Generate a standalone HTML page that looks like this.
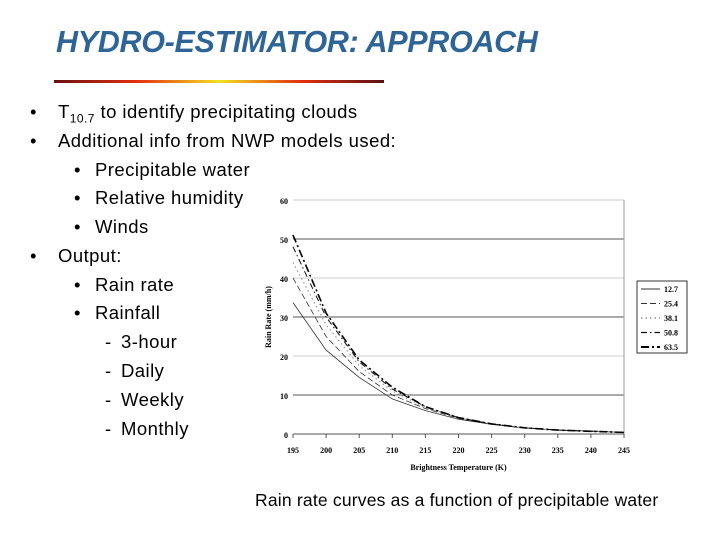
<!DOCTYPE html>
<html><head><meta charset="utf-8"><style>
body{margin:0;width:720px;height:540px;background:#fff;overflow:hidden;position:relative;font-family:"Liberation Sans",sans-serif}
.t{position:absolute;font-size:18.5px;letter-spacing:0.45px;color:#000;white-space:nowrap}
</style></head><body>
<div style="position:absolute;left:56px;top:25px;font:italic bold 30.5px 'Liberation Sans',sans-serif;color:#2e6596;letter-spacing:-0.3px">HYDRO-ESTIMATOR: APPROACH</div>
<div style="position:absolute;left:54px;top:80px;width:330px;height:3px;background:linear-gradient(90deg,#6a1010,#e03010 25%,#f5e020 50%,#e03010 75%,#5a1010)"></div>
<div>
<div class="t" style="left:30px;top:101px">•</div><div class="t" style="left:58px;top:101px">T<sub style="font-size:12px">10.7</sub> to identify precipitating clouds</div>
<div class="t" style="left:30px;top:130px">•</div><div class="t" style="left:58px;top:130px">Additional info from NWP models used:</div>
<div class="t" style="left:74px;top:159px">•</div><div class="t" style="left:95px;top:159px">Precipitable water</div>
<div class="t" style="left:74px;top:187px">•</div><div class="t" style="left:95px;top:187px">Relative humidity</div>
<div class="t" style="left:74px;top:216px">•</div><div class="t" style="left:95px;top:216px">Winds</div>
<div class="t" style="left:30px;top:245px">•</div><div class="t" style="left:58px;top:245px">Output:</div>
<div class="t" style="left:74px;top:274px">•</div><div class="t" style="left:95px;top:274px">Rain rate</div>
<div class="t" style="left:74px;top:302px">•</div><div class="t" style="left:95px;top:302px">Rainfall</div>
<div class="t" style="left:105px;top:331px">-</div><div class="t" style="left:121px;top:331px">3-hour</div>
<div class="t" style="left:105px;top:360px">-</div><div class="t" style="left:121px;top:360px">Daily</div>
<div class="t" style="left:105px;top:389px">-</div><div class="t" style="left:121px;top:389px">Weekly</div>
<div class="t" style="left:105px;top:418px">-</div><div class="t" style="left:121px;top:418px">Monthly</div>
</div>
<div class="t" style="left:255px;top:490px;font-size:17.5px;letter-spacing:0.2px">Rain rate curves as a function of precipitable water</div>
<svg id="c" width="720" height="540" style="position:absolute;left:0;top:0"></svg>
<script>
const temps=[195,200,205,210,215,220,225,230,235,240,245];
const s127=[33.7,21.5,14.5,9,6,3.8,2.5,1.5,1,0.8,0.4];
const s254=[40,25,16,10,6.5,4,2.5,1.6,1,0.7,0.4];
const s381=[44,28,17.5,11,6.8,4.1,2.6,1.6,1,0.7,0.4];
const s508=[48,30,18.5,11.5,7,4.2,2.6,1.6,1,0.7,0.4];
const s635=[51,31,19,12,7,4.2,2.6,1.6,1,0.7,0.4];
const seriesNames=["12.7","25.4","38.1","50.8","63.5"];
const yTicks=[0,10,20,30,40,50,60];
const series=[s127,s254,s381,s508,s635];
const dashes=["","6,3","1.5,3","6,3,1.5,3","8,3,2,3"];
const widths=[0.8,0.8,1.2,1,1.6];
const colors=["#333","#333","#999","#111","#000"];
const X0=293,X1=624,Y0=434,Y1=200;
const xs=v=>X0+(v-195)/(245-195)*(X1-X0);
const ys=v=>Y0-v/60*(Y0-Y1);
const svg=document.getElementById('c');const NS='http://www.w3.org/2000/svg';
function mk(t,a,p){const e=document.createElementNS(NS,t);for(const k in a)e.setAttribute(k,a[k]);(p||svg).appendChild(e);return e;}
yTicks.forEach(v=>{
 const l=mk('line',{x1:X0,x2:X1,y1:ys(v),y2:ys(v),stroke:(v%20===10)?'#555':'#ccc','stroke-width':1});
 
 
 const t=mk('text',{x:X0-5,y:ys(v)+4,'text-anchor':'end','font-size':8,'font-weight':'bold','font-family':'Liberation Serif,serif'});
 t.textContent=v;
 
 
});
const ax=mk('line',{x1:X1,x2:X1,y1:Y1,y2:Y0,stroke:'#999'});


const xa=mk('line',{x1:X0,x2:X1,y1:Y0,y2:Y0,stroke:'#555'});


temps.forEach(v=>{
 mk('line',{x1:xs(v),x2:xs(v),y1:Y0,y2:Y0+4,stroke:'#555'});
 const t=mk('text',{x:xs(v),y:Y0+19,'text-anchor':'middle','font-size':8,'font-weight':'bold','font-family':'Liberation Serif,serif'});
 t.textContent=v;
 
 
});
const xt=mk('text',{x:(X0+X1)/2,y:470,'text-anchor':'middle','font-size':8,'font-weight':'bold','font-family':'Liberation Serif,serif'});
xt.textContent='Brightness Temperature (K)';


const yt=mk('text',{x:0,y:0,'text-anchor':'middle','font-size':8,'font-weight':'bold','font-family':'Liberation Serif,serif',transform:'translate(271,317) rotate(-90)'});
yt.textContent='Rain Rate (mm/h)';


series.forEach((s,i)=>{
 const d=s.map((v,j)=>(j?'L':'M')+xs(temps[j]).toFixed(1)+','+ys(v).toFixed(1)).join('');
 const p=mk('path',{d:d,fill:'none',stroke:colors[i],'stroke-width':widths[i],'stroke-dasharray':dashes[i]});
 
 
});
const lg=mk('rect',{x:637,y:281,width:50,height:72,fill:'#fff',stroke:'#333'});


seriesNames.forEach((n,i)=>{
 const y=289+i*14.5;
 mk('line',{x1:641,x2:660,y1:y,y2:y,stroke:colors[i],'stroke-width':widths[i]+0.3,'stroke-dasharray':dashes[i]});
 const t=mk('text',{x:664,y:y+3,'font-size':8,'font-weight':'bold','font-family':'Liberation Serif,serif'});
 t.textContent=n;
 
 
});
</script>
</body></html>
